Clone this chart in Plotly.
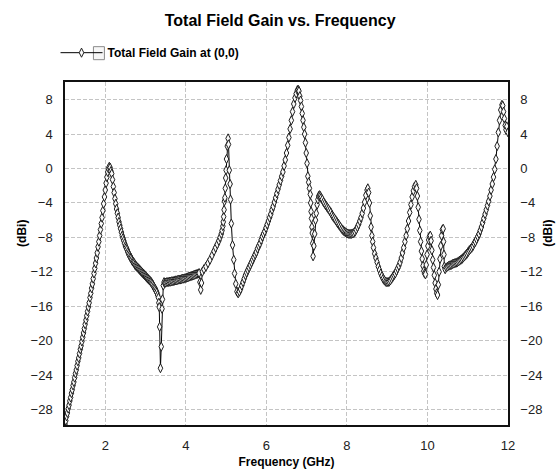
import plotly.graph_objects as go

# ---------------- data ----------------
freq_ghz = [
    1.00, 1.02, 1.04, 1.06, 1.08, 1.10, 1.12, 1.14, 1.16, 1.18, 1.20, 1.22, 1.24, 1.26, 1.28, 1.30,
    1.32, 1.34, 1.36, 1.38, 1.40, 1.42, 1.44, 1.46, 1.48, 1.50, 1.52, 1.54, 1.56, 1.58, 1.60, 1.62,
    1.64, 1.66, 1.68, 1.70, 1.72, 1.74, 1.76, 1.78, 1.80, 1.82, 1.84, 1.86, 1.88, 1.90, 1.92, 1.94,
    1.96, 1.98, 2.00, 2.02, 2.04, 2.06, 2.08, 2.10, 2.12, 2.14,
    2.16, 2.18, 2.20, 2.22, 2.24, 2.26, 2.28, 2.30, 2.32, 2.34, 2.36, 2.38, 2.40, 2.42, 2.44, 2.46,
    2.48, 2.50, 2.52, 2.54, 2.56, 2.58, 2.60, 2.62, 2.64, 2.66, 2.68, 2.70, 2.72, 2.74, 2.76, 2.78,
    2.80, 2.82, 2.84, 2.86, 2.88, 2.90, 2.92, 2.94, 2.96, 2.98, 3.00, 3.02, 3.04, 3.06, 3.08, 3.10,
    3.12, 3.14, 3.16, 3.18, 3.20, 3.22, 3.24, 3.26, 3.28, 3.30, 3.32, 3.33, 3.34, 3.35, 3.37, 3.39,
    3.41, 3.42, 3.44, 3.46,
    3.48, 3.50, 3.53, 3.56, 3.59, 3.62, 3.65, 3.68, 3.71, 3.74, 3.77, 3.80, 3.83, 3.86, 3.89, 3.92,
    3.95, 3.98, 4.01, 4.04, 4.07, 4.10, 4.13, 4.16, 4.19, 4.22, 4.25, 4.28, 4.31, 4.33, 4.35, 4.37,
    4.39, 4.41,
    4.45, 4.50, 4.55, 4.60, 4.65, 4.70, 4.74, 4.78, 4.82, 4.85, 4.88, 4.90, 4.92, 4.93, 4.94, 4.95,
    4.96, 4.97, 4.98, 4.99, 5.00, 5.01, 5.03, 5.05,
    5.06, 5.08, 5.10, 5.11, 5.13, 5.16, 5.19, 5.21, 5.24, 5.27,
    5.30, 5.33, 5.36, 5.39, 5.42, 5.45, 5.48, 5.51, 5.54, 5.57, 5.60, 5.63, 5.66, 5.69, 5.72, 5.75,
    5.78, 5.81, 5.84, 5.87, 5.90, 5.93, 5.96, 5.99, 6.02, 6.05, 6.08, 6.11, 6.14, 6.17, 6.20, 6.23,
    6.26, 6.29, 6.32, 6.35, 6.38, 6.41, 6.44, 6.47, 6.50, 6.53, 6.56, 6.59, 6.62, 6.65, 6.68, 6.71,
    6.74, 6.77, 6.79, 6.81, 6.83,
    6.85, 6.87, 6.89, 6.91, 6.93, 6.95, 6.97, 6.99, 7.01, 7.03, 7.05, 7.07, 7.09, 7.10, 7.11, 7.12,
    7.13, 7.14, 7.15, 7.16, 7.18, 7.20, 7.22, 7.24, 7.26, 7.28, 7.30, 7.32, 7.34,
    7.36, 7.39, 7.42, 7.45, 7.48, 7.51, 7.54, 7.57, 7.60, 7.63, 7.66, 7.69, 7.72, 7.75, 7.78, 7.81,
    7.84, 7.87, 7.90, 7.93, 7.96, 7.99, 8.02, 8.05, 8.08, 8.11, 8.14, 8.17, 8.20, 8.23, 8.26, 8.29,
    8.32, 8.35, 8.38, 8.41, 8.44, 8.47, 8.50, 8.52, 8.54, 8.56, 8.58, 8.60, 8.62, 8.64, 8.66, 8.69,
    8.72, 8.75, 8.78, 8.81, 8.84, 8.87, 8.90, 8.93, 8.96, 8.99, 9.02, 9.05, 9.08, 9.11, 9.14, 9.17,
    9.20, 9.23, 9.26, 9.29, 9.32, 9.35, 9.38, 9.41, 9.44, 9.47, 9.50, 9.53, 9.56, 9.59, 9.62, 9.65,
    9.68, 9.71, 9.73,
    9.75, 9.77, 9.79, 9.81, 9.83, 9.85, 9.87, 9.89, 9.91, 9.93, 9.95, 9.97, 9.99, 10.01, 10.03, 10.05,
    10.07, 10.09, 10.11, 10.13, 10.15, 10.17, 10.19, 10.21, 10.23, 10.25, 10.27, 10.29, 10.31, 10.33,
    10.35, 10.37, 10.39, 10.40, 10.41, 10.42, 10.44,
    10.47, 10.50, 10.53, 10.56, 10.59, 10.62, 10.65, 10.68, 10.71, 10.74, 10.77, 10.80, 10.83, 10.86,
    10.89, 10.92, 10.95, 10.98, 11.01, 11.04, 11.07, 11.10, 11.13, 11.16, 11.19, 11.22, 11.25, 11.28,
    11.31, 11.34, 11.37, 11.40, 11.43, 11.46, 11.49, 11.52, 11.55, 11.58, 11.61, 11.64, 11.67, 11.70,
    11.73, 11.76, 11.79, 11.82, 11.85, 11.87, 11.89, 11.91, 11.93, 11.95, 11.97, 12.00,
]

gain_dbi = [
    -29.7, -29.3, -28.8, -28.4, -27.9, -27.5, -27.0, -26.6, -26.1, -25.7, -25.2, -24.8, -24.3, -23.8, -23.4, -22.9,
    -22.4, -22.0, -21.5, -21.0, -20.6, -20.1, -19.6, -19.1, -18.6, -18.1, -17.6, -17.1, -16.6, -16.1, -15.6, -15.0,
    -14.5, -13.9, -13.4, -12.8, -12.2, -11.6, -11.0, -10.4, -9.8, -9.1, -8.5, -7.8, -7.1, -6.4, -5.7, -4.9,
    -4.1, -3.3, -2.5, -1.7, -1.0, -0.4, 0.0, 0.2, 0.1, -0.3,
    -0.6, -1.3, -2.1, -2.8, -3.5, -4.1, -4.7, -5.2, -5.7, -6.2, -6.6, -7.0, -7.4, -7.8, -8.1, -8.4,
    -8.7, -9.0, -9.2, -9.4, -9.7, -9.9, -10.1, -10.3, -10.4, -10.6, -10.8, -10.9, -11.0, -11.2, -11.3, -11.4,
    -11.5, -11.6, -11.7, -11.8, -11.9, -12.0, -12.1, -12.2, -12.3, -12.4, -12.5, -12.6, -12.7, -12.8, -12.9, -13.0,
    -13.1, -13.2, -13.35, -13.5, -13.7, -13.85, -14.0, -14.2, -14.4, -14.7, -15.0, -15.6, -16.1, -18.4, -23.2, -20.7,
    -16.3, -15.2, -13.6, -13.2,
    -13.3, -13.25, -13.2, -13.2, -13.15, -13.15, -13.1, -13.1, -13.05, -13.0, -13.0, -12.95, -12.9, -12.9, -12.85, -12.8,
    -12.8, -12.75, -12.7, -12.65, -12.6, -12.55, -12.5, -12.45, -12.4, -12.35, -12.3, -12.25, -12.2, -12.15, -13.2, -14.1,
    -13.3, -12.0,
    -11.7, -11.4, -11.0, -10.6, -10.1, -9.6, -9.2, -8.8, -8.4, -8.0, -7.6, -7.2, -6.7, -6.2, -5.6, -4.8,
    -3.8, -3.4, -2.3, -1.1, -0.2, 1.1, 2.6, 3.5,
    2.8, -0.2, -1.8, -3.6, -6.4, -8.9, -10.6, -12.2, -13.4, -14.3,
    -14.5, -14.3, -14.0, -13.6, -13.2, -12.8, -12.4, -12.1, -11.8, -11.5, -11.2, -10.9, -10.6, -10.3, -10.0, -9.7,
    -9.3, -9.0, -8.7, -8.3, -7.9, -7.6, -7.3, -6.9, -6.5, -6.1, -5.7, -5.3, -4.8, -4.4, -3.9, -3.4,
    -2.9, -2.4, -1.9, -1.4, -0.9, -0.4, 0.3, 1.0, 1.8, 2.7, 3.6, 4.6, 5.6, 6.6, 7.5, 8.2,
    8.7, 9.1, 9.15, 9.0, 8.4,
    7.9, 7.2, 6.4, 5.6, 4.8, 4.0, 3.0, 1.8, 0.6, -0.9, -1.6, -2.3, -3.0, -4.0, -5.0, -5.8,
    -6.8, -7.5, -8.7, -10.2, -9.0, -7.6, -6.0, -5.2, -4.2, -3.6, -3.2, -3.1, -3.2,
    -3.4, -3.6, -3.9, -4.1, -4.3, -4.5, -4.7, -4.9, -5.1, -5.4, -5.6, -5.8, -6.0, -6.2, -6.4, -6.6,
    -6.8, -7.0, -7.15, -7.3, -7.4, -7.5, -7.55, -7.6, -7.6, -7.6, -7.55, -7.5, -7.35, -7.1, -6.8, -6.5,
    -6.1, -5.7, -5.2, -4.6, -3.9, -3.1, -2.5, -2.3, -2.8, -4.0, -5.5, -6.8, -7.8, -8.5, -9.2, -9.9,
    -10.4, -10.9, -11.4, -11.8, -12.2, -12.5, -12.8, -13.0, -13.15, -13.2, -13.2, -13.15, -13.0, -12.8, -12.6, -12.4,
    -12.2, -11.9, -11.6, -11.3, -10.9, -10.4, -9.8, -9.2, -8.5, -7.8, -7.0, -6.1, -5.1, -4.2, -3.3, -2.6,
    -2.1, -1.9, -2.3,
    -3.2, -4.5, -5.9, -7.2, -8.5, -9.6, -10.5, -11.3, -11.9, -12.2, -12.3, -11.2, -10.0, -9.0, -8.3, -7.9,
    -7.8, -8.4, -9.5, -10.6, -11.5, -12.4, -13.3, -14.0, -14.5, -14.7, -13.5, -12.0, -10.5, -9.0,
    -7.8, -7.1, -7.0, -8.5, -10.0, -11.4, -11.7,
    -11.5, -11.4, -11.3, -11.25, -11.2, -11.1, -11.05, -11.0, -10.95, -10.9, -10.8, -10.7, -10.6, -10.5,
    -10.35, -10.2, -10.05, -9.9, -9.7, -9.5, -9.35, -9.2, -9.0, -8.7, -8.5, -8.2, -7.9, -7.6,
    -7.2, -6.8, -6.3, -5.8, -5.3, -4.8, -4.3, -3.8, -3.2, -2.5, -1.8, -1.0, -0.1, 1.1,
    2.6, 4.2, 5.6, 6.8, 7.4, 7.3, 6.6, 5.8, 5.0, 4.5, 4.9, 4.2,
]

x_ticks = [2, 4, 6, 8, 10, 12]
y_ticks = [-28, -24, -20, -16, -12, -8, -4, 0, 4, 8]
x_range = [1, 12]
y_range = [-29.8, 10.05]

series_name = "Total Field Gain at (0,0)"
chart_title = "Total Field Gain vs. Frequency"
x_title = "Frequency (GHz)"
y_title = "(dBi)"

# ---------------- figure ----------------
W, H = 557, 475
ML, MR, MT, MB = 64.5, 48.5, 82.3, 50
PW = W - ML - MR
PH = H - MT - MB

def px_to_paper_x(px):
    return (px - ML) / PW

def px_to_paper_y(py):
    return (H - MB - py) / PH

FAMILY = "Liberation Sans, Arial, sans-serif"

fig = go.Figure()
fig.add_trace(go.Scatter(
    x=freq_ghz, y=gain_dbi, mode="lines+markers", name=series_name,
    line=dict(color="#000000", width=1),
    marker=dict(symbol="diamond-tall", size=6.5, color="#fafafa",
                line=dict(color="#1e1e1e", width=1)),
))
# invisible trace for the mirrored right axis
fig.add_trace(go.Scatter(x=[x_range[0]], y=[y_range[0]], yaxis="y2",
                         mode="markers", marker=dict(opacity=0),
                         showlegend=False, hoverinfo="skip"))

tick_font = dict(family=FAMILY, size=13, color="#222222")
bold_font = dict(family=FAMILY, size=12, color="#000000", weight="bold")

axis_common = dict(
    showline=True, linecolor="#111111", linewidth=1.5,
    ticks="", ticklabelstandoff=8,
    tickfont=tick_font, zeroline=False,
)

fig.update_layout(
    width=W, height=H,
    margin=dict(l=ML, r=MR, t=MT, b=MB, pad=0, autoexpand=False),
    paper_bgcolor="#ffffff", plot_bgcolor="#ffffff",
    title=dict(text=chart_title, x=0.503, xanchor="center",
               y=1 - 20 / H, yanchor="middle",
               font=dict(family=FAMILY, size=16, color="#000000", weight="bold")),
    xaxis=dict(range=x_range, tickvals=x_ticks, mirror=True,
               showgrid=True, gridcolor="#c4c4c4", griddash="4px,2px", gridwidth=1,
               title=dict(text=x_title, font=bold_font, standoff=5),
               **axis_common),
    yaxis=dict(range=y_range, tickvals=y_ticks, mirror=True,
               showgrid=True, gridcolor="#c4c4c4", griddash="4px,2px", gridwidth=1,
               **axis_common),
    yaxis2=dict(range=y_range, tickvals=y_ticks, overlaying="y", side="right",
                showgrid=False, **axis_common),
    showlegend=True,
    legend=dict(x=px_to_paper_x(55), xanchor="left",
                y=px_to_paper_y(53), yanchor="middle",
                itemwidth=42, font=bold_font, bgcolor="rgba(0,0,0,0)",
                borderwidth=0, tracegroupgap=0),
)

# y-axis titles (centred on the canvas height as in the reference)
for xpx in (22, 549):
    fig.add_annotation(text=y_title, textangle=-90,
                       x=px_to_paper_x(xpx), y=px_to_paper_y(H / 2 - 4),
                       xref="paper", yref="paper", showarrow=False,
                       font=bold_font, xanchor="center", yanchor="middle")

# the little check box drawn next to the legend symbol
fig.add_shape(type="rect", xref="paper", yref="paper",
              x0=px_to_paper_x(93), x1=px_to_paper_x(104),
              y0=px_to_paper_y(60), y1=px_to_paper_y(47),
              line=dict(color="#8a8a8a", width=1), fillcolor="#f6f6f6")

fig.write_html("out.html")
